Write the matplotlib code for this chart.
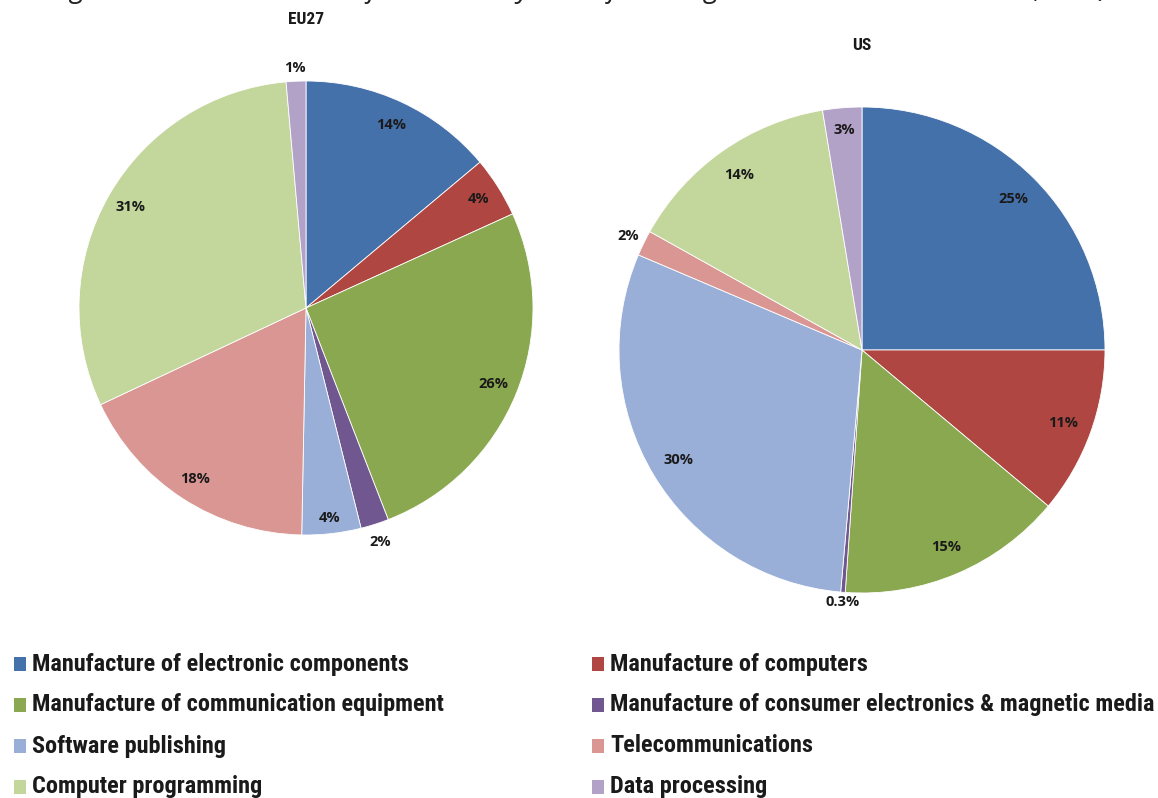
import numpy as np
import matplotlib
matplotlib.use("Agg")
import matplotlib.pyplot as plt
from matplotlib.patches import Rectangle
from matplotlib import font_manager as fm

categories = [
    "Manufacture of electronic components",
    "Manufacture of computers",
    "Manufacture of communication equipment",
    "Manufacture of consumer electronics & magnetic media",
    "Software publishing",
    "Telecommunications",
    "Computer programming",
    "Data processing",
]
eu_values = [13.9, 4.3, 25.9, 2.0, 4.2, 17.7, 30.6, 1.4]
eu_labels = ["14%", "4%", "26%", "2%", "4%", "18%", "31%", "1%"]
us_values = [25.0, 11.1, 15.0, 0.3, 30.0, 1.7, 14.3, 2.6]
us_labels = ["25%", "11%", "15%", "0.3%", "30%", "2%", "14%", "3%"]

colors = ["#4571AB", "#AF4641", "#8AA84F", "#71578F", "#9AAFD8", "#D99693", "#C3D69C", "#B2A2C8"]

W, H = 1158, 798
fig = plt.figure(figsize=(W / 100, H / 100), dpi=100)
fig.patch.set_facecolor("white")

# pick a condensed font if one is installed
names = {f.name for f in fm.fontManager.ttflist}
cond = None
for cand in ["Liberation Sans Narrow", "DejaVu Sans Condensed", "Roboto Condensed",
             "Open Sans Condensed", "Noto Sans Condensed"]:
    if cand in names:
        cond = cand
        break
cond_stretch = "normal"
if cond is None:
    cond = "DejaVu Sans"
    cond_stretch = "condensed"
head_font = [cond, "DejaVu Sans"]

label_font = dict(family=["Open Sans", "DejaVu Sans"], fontweight="bold", fontsize=10.5, color="#1a1a1a")


def draw_pie(cx, cy, r, values, labels, label_r, title, title_y):
    ax = fig.add_axes([(cx - r) / W, (H - cy - r) / H, 2 * r / W, 2 * r / H])
    wedges, _ = ax.pie(values, colors=colors, startangle=90, counterclock=False,
                       radius=1.0, wedgeprops=dict(linewidth=0.6, edgecolor="white"))
    ax.set_xlim(-1, 1)
    ax.set_ylim(-1, 1)
    ax.set_aspect("equal")
    ax.axis("off")
    for w, lab, lr in zip(wedges, labels, label_r):
        ang = np.deg2rad((w.theta1 + w.theta2) / 2)
        ax.text(lr * np.cos(ang), lr * np.sin(ang), lab, ha="center", va="center",
                clip_on=False, **label_font)
    fig.text(cx / W, 1 - title_y / H, title, ha="center", va="center",
             family=head_font, fontstretch=cond_stretch, fontweight="bold", fontsize=12.5, color="#1a1a1a")


draw_pie(306, 308, 227, eu_values, eu_labels,
         [0.89, 0.9, 0.89, 1.08, 0.93, 0.9, 0.89, 1.06], "EU27", 19)
draw_pie(862, 350, 243, us_values, us_labels,
         [0.88, 0.88, 0.88, 1.04, 0.88, 1.07, 0.88, 0.91], "US", 46)

# figure caption (cut off at top as in the source)
fig.text(0.5, 1 + 10 / H, "Figure 4 - 7: Distribution of ICT BERD by Manufacturing and Services sub-sectors (2008)",
         ha="center", va="center", fontsize=20, style="italic", family=["Open Sans", "DejaVu Sans"],
         color="#222222")

# legend: two columns, text fitted to the reference widths
row_y = [664, 705, 746, 787]
col_x = [14, 592]
renderer = fig.canvas.get_renderer()
legend_texts = []
for i, (cat, col) in enumerate(zip(categories, colors)):
    x0 = col_x[i % 2]
    y0 = row_y[i // 2]
    fig.patches.append(Rectangle((x0 / W, 1 - (y0 + 7) / H), 12 / W, 14 / H,
                                 transform=fig.transFigure, facecolor=col, edgecolor="none"))
    t = fig.text((x0 + 18) / W, 1 - y0 / H, cat, ha="left", va="center",
                 family=head_font, fontstretch=cond_stretch, fontweight="bold", fontsize=14, color="#1a1a1a")
    legend_texts.append(t)
scale = 378 / legend_texts[0].get_window_extent(renderer).width
for t in legend_texts:
    t.set_fontsize(14 * scale)

fig.savefig("out.png", dpi=100, facecolor="white")
